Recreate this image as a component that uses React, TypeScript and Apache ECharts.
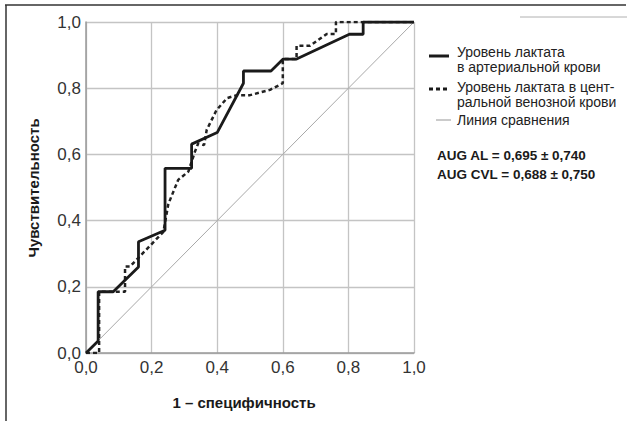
import React, { useEffect, useRef } from "react";
import * as echarts from "echarts";

const xTicks = [0, 0.2, 0.4, 0.6, 0.8, 1.0];

const arterialX = [0, 0.037, 0.037, 0.083, 0.16, 0.16, 0.241, 0.241, 0.322, 0.322, 0.4, 0.48, 0.48, 0.564, 0.601, 0.642, 0.803, 0.845, 0.845, 1.0];
const arterialY = [0, 0.036, 0.185, 0.185, 0.26, 0.336, 0.371, 0.558, 0.558, 0.631, 0.666, 0.815, 0.852, 0.852, 0.888, 0.888, 0.963, 0.963, 1.0, 1.0];

const venousX = [0, 0.04, 0.04, 0.119, 0.119, 0.134, 0.236, 0.251, 0.281, 0.312, 0.332, 0.342, 0.36, 0.368, 0.398, 0.43, 0.46, 0.5, 0.561, 0.6, 0.6, 0.642, 0.642, 0.683, 0.734, 0.762, 0.762, 1.0];
const venousY = [0, 0, 0.185, 0.185, 0.261, 0.261, 0.366, 0.45, 0.523, 0.548, 0.608, 0.633, 0.628, 0.674, 0.734, 0.77, 0.779, 0.779, 0.795, 0.815, 0.888, 0.888, 0.928, 0.928, 0.964, 0.964, 1.0, 1.0];

const refX = [0, 1];
const refY = [0, 1];

const legendLabels = [
  ["Уровень лактата", "в артериальной крови"],
  ["Уровень лактата в цент-", "ральной венозной крови"],
  ["Линия сравнения"],
];
const aucLabels = ["AUG AL = 0,695 ± 0,740", "AUG CVL = 0,688 ± 0,750"];
const xName = "1 – специфичность";
const yName = "Чувствительность";

const zip = (xs: number[], ys: number[]) => xs.map((x, i) => [x, ys[i]]);
const fmt = (v: number) => v.toFixed(1).replace(".", ",");

const FONT = "Liberation Sans, Arial, sans-serif";

export default function App() {
  const ref = useRef<HTMLDivElement>(null);
  useEffect(() => {
    if (!ref.current) return;
    const chart = echarts.init(ref.current, null, { renderer: "svg" });
    const textColor = "#222";
    const legendFont = `14px ${FONT}`;
    chart.setOption({
      animation: false,
      backgroundColor: "#fff",
      textStyle: { fontFamily: FONT },
      grid: { left: 86, right: 213, top: 22, bottom: 68, containLabel: false },
      xAxis: {
        type: "value",
        min: 0,
        max: 1,
        interval: 0.2,
        axisLine: { show: true, onZero: false, lineStyle: { color: "#9a9a9a", width: 1.5 } },
        axisTick: { show: false },
        splitLine: { show: true, lineStyle: { color: "#c4c4c4", width: 1.3 } },
        axisLabel: { formatter: (v: number) => fmt(v), color: "#333", fontSize: 17, margin: 6, fontFamily: FONT },
      },
      yAxis: {
        type: "value",
        min: 0,
        max: 1,
        interval: 0.2,
        axisLine: { show: true, onZero: false, lineStyle: { color: "#9a9a9a", width: 1.5 } },
        axisTick: { show: false },
        splitLine: { show: true, lineStyle: { color: "#c4c4c4", width: 1.3 } },
        axisLabel: { formatter: (v: number) => fmt(v), color: "#333", fontSize: 17, margin: 5, fontFamily: FONT },
      },
      series: [
        {
          type: "line",
          data: zip(refX, refY),
          showSymbol: false,
          lineStyle: { color: "#a8a8a8", width: 1 },
          z: 1,
        },
        {
          type: "line",
          data: zip(venousX, venousY),
          showSymbol: false,
          lineStyle: { color: "#222", width: 2.5, type: [4, 3] },
          z: 2,
        },
        {
          type: "line",
          data: zip(arterialX, arterialY),
          showSymbol: false,
          lineStyle: { color: "#1a1a1a", width: 2.8 },
          z: 3,
        },
      ],
      graphic: [
        // frame
        { type: "line", shape: { x1: 5, y1: 5, x2: 626, y2: 5 }, style: { stroke: "#333", lineWidth: 1.5 } },
        { type: "line", shape: { x1: 6, y1: 5, x2: 6, y2: 421 }, style: { stroke: "#333", lineWidth: 1.5 } },
        { type: "line", shape: { x1: 520, y1: 17, x2: 627, y2: 17 }, style: { stroke: "#b0b0b0", lineWidth: 1 } },
        // legend icons
        { type: "line", shape: { x1: 429, y1: 56, x2: 449, y2: 56 }, style: { stroke: "#1a1a1a", lineWidth: 3 } },
        { type: "line", shape: { x1: 429, y1: 89, x2: 449, y2: 89 }, style: { stroke: "#1a1a1a", lineWidth: 3, lineDash: [4, 3] } },
        { type: "line", shape: { x1: 436, y1: 120, x2: 451, y2: 120 }, style: { stroke: "#a8a8a8", lineWidth: 1.2 } },
        // legend texts
        { type: "text", x: 457, y: 51.5, style: { text: legendLabels[0][0], fill: textColor, font: legendFont, textVerticalAlign: "middle" } },
        { type: "text", x: 457, y: 66.5, style: { text: legendLabels[0][1], fill: textColor, font: legendFont, textVerticalAlign: "middle" } },
        { type: "text", x: 457, y: 87, style: { text: legendLabels[1][0], fill: textColor, font: legendFont, textVerticalAlign: "middle" } },
        { type: "text", x: 457, y: 101.5, style: { text: legendLabels[1][1], fill: textColor, font: legendFont, textVerticalAlign: "middle" } },
        { type: "text", x: 457, y: 120, style: { text: legendLabels[2][0], fill: textColor, font: legendFont, textVerticalAlign: "middle" } },
        // AUC
        { type: "text", x: 437, y: 155.5, style: { text: aucLabels[0], fill: "#1a1a1a", font: `bold 13.5px ${FONT}`, textVerticalAlign: "middle" } },
        { type: "text", x: 437, y: 174, style: { text: aucLabels[1], fill: "#1a1a1a", font: `bold 13.5px ${FONT}`, textVerticalAlign: "middle" } },
        // axis names
        { type: "text", x: 244, y: 402, style: { text: xName, fill: "#1a1a1a", font: `bold 15px ${FONT}`, textAlign: "center", textVerticalAlign: "middle" } },
        { type: "text", x: 33, y: 188, rotation: Math.PI / 2, style: { text: yName, fill: "#1a1a1a", font: `bold 15px ${FONT}`, textAlign: "center", textVerticalAlign: "middle" } },
      ],
    });
    return () => chart.dispose();
  }, []);
  return <div ref={ref} style={{ position: "fixed", left: 0, top: 0, width: 627, height: 421 }} />;
}
